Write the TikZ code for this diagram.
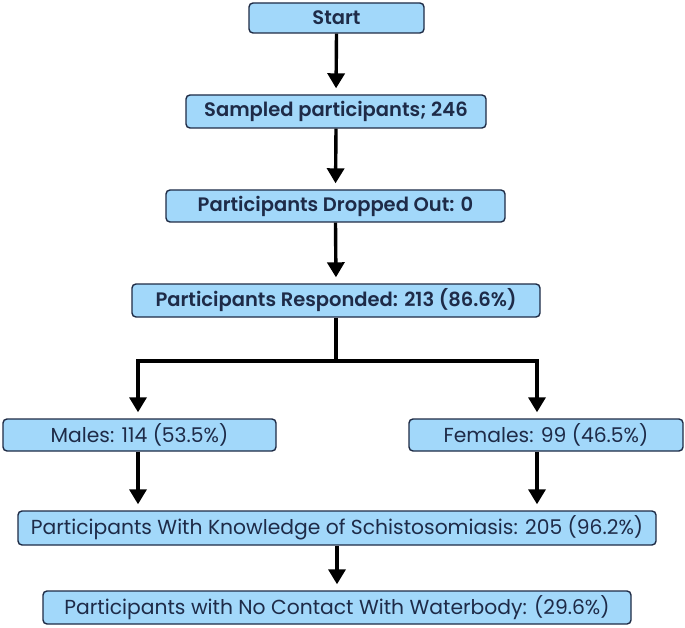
\documentclass[tikz,border=0pt]{standalone}
\usepackage{fontspec}
\setmainfont{Poppins}
\newfontfamily\psemi{Poppins SemiBold}
\usetikzlibrary{arrows.meta}
\definecolor{boxfill}{HTML}{A2D8FA}
\definecolor{boxdraw}{HTML}{1E2B45}
\definecolor{boxtext}{HTML}{1E2B48}
\tikzset{
  fbox/.style={draw=boxdraw, line width=1.4pt, fill=boxfill, rounded corners=4pt,
    text=boxtext, inner sep=0pt, anchor=center},
  topbox/.style={fbox, font=\psemi\fontsize{19.5}{22}\selectfont},
  lowbox/.style={fbox, font=\fontsize{20.3}{23}\selectfont},
  conn/.style={line width=3.4pt, black},
  arr/.style={conn, -{Triangle[width=17pt,length=15pt]}, shorten >=6pt},
}
\begin{document}
\begin{tikzpicture}[x=1pt,y=-1pt]
\useasboundingbox (0,0) rectangle (685,628);
\node[topbox, minimum width=175pt, minimum height=30pt] (start) at (336.5,18) {Start};
\node[topbox, minimum width=300pt, minimum height=33pt] (samp) at (336,111.5) {Sampled participants; 246};
\node[topbox, minimum width=339pt, minimum height=32pt] (drop) at (335.5,206) {Participants Dropped Out: 0};
\node[topbox, minimum width=408pt, minimum height=33pt] (resp) at (336,300.5) {Participants Responded: 213 (86.6\%)};
\node[lowbox, minimum width=273pt, minimum height=32pt] (male) at (139.5,435) {Males: 114 (53.5\%)};
\node[lowbox, minimum width=274pt, minimum height=32pt] (fem) at (546,435) {Females: 99 (46.5\%)};
\node[lowbox, minimum width=638pt, minimum height=34pt] (know) at (337,528) {Participants With Knowledge of Schistosomiasis: 205 (96.2\%)};
\node[lowbox, minimum width=588pt, minimum height=33pt] (water) at (337,607.5) {Participants with No Contact With Waterbody: (29.6\%)};
\coordinate (split) at (336,361);
\coordinate (splitL) at (138,361);
\coordinate (splitR) at (537,361);
\draw[arr] (start.south) -- (samp.north);
\draw[arr] (samp.south) -- (drop.north);
\draw[arr] (drop.south) -- (resp.north);
\draw[conn] (resp.south) -- (split);
\draw[conn, line cap=rect] (splitL) -- (splitR);
\draw[arr] (splitL) -- (splitL |- male.north);
\draw[arr] (splitR) -- (splitR |- fem.north);
\draw[arr] (male.south -| splitL) -- (splitL |- know.north);
\draw[arr] (fem.south -| splitR) -- (splitR |- know.north);
\draw[arr] (know.south) -- (water.north);
\end{tikzpicture}
\end{document}
